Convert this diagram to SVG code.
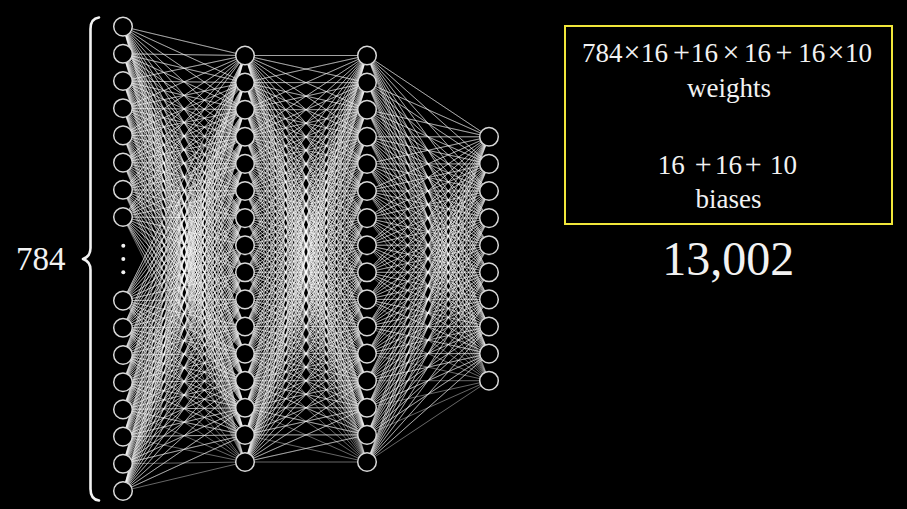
<svg xmlns="http://www.w3.org/2000/svg" width="907" height="509" viewBox="0 0 907 509">
<style>
.bg{fill:#000}
.n{fill:#000;stroke:#d8d8d8;stroke-width:1.5}
.c path{fill:none;stroke:#fff;stroke-opacity:0.4;stroke-width:1;stroke-linejoin:round}
.t{fill:#f2f2f2;font-family:"Liberation Serif","Times New Roman","DejaVu Serif",serif}
.op{font-size:30px}
</style>
<rect class="bg" x="0" y="0" width="907" height="509"/>
<g id="connectors" class="c">
<path d="M123 26.6L245 55.5 123 26.6 245 82.6 123 26.6 245 109.7 123 26.6 245 136.8 123 26.6 245 163.9 123 26.6 245 191 123 26.6 245 218.1 123 26.6 245 245.2 123 26.6 245 272.3 123 26.6 245 299.4 123 26.6 245 326.5 123 26.6 245 353.6 123 26.6 245 380.7 123 26.6 245 407.8 123 26.6 245 434.9 123 26.6 245 462"/>
<path d="M123 53.8L245 55.5 123 53.8 245 82.6 123 53.8 245 109.7 123 53.8 245 136.8 123 53.8 245 163.9 123 53.8 245 191 123 53.8 245 218.1 123 53.8 245 245.2 123 53.8 245 272.3 123 53.8 245 299.4 123 53.8 245 326.5 123 53.8 245 353.6 123 53.8 245 380.7 123 53.8 245 407.8 123 53.8 245 434.9 123 53.8 245 462"/>
<path d="M123 81L245 55.5 123 81 245 82.6 123 81 245 109.7 123 81 245 136.8 123 81 245 163.9 123 81 245 191 123 81 245 218.1 123 81 245 245.2 123 81 245 272.3 123 81 245 299.4 123 81 245 326.5 123 81 245 353.6 123 81 245 380.7 123 81 245 407.8 123 81 245 434.9 123 81 245 462"/>
<path d="M123 108.2L245 55.5 123 108.2 245 82.6 123 108.2 245 109.7 123 108.2 245 136.8 123 108.2 245 163.9 123 108.2 245 191 123 108.2 245 218.1 123 108.2 245 245.2 123 108.2 245 272.3 123 108.2 245 299.4 123 108.2 245 326.5 123 108.2 245 353.6 123 108.2 245 380.7 123 108.2 245 407.8 123 108.2 245 434.9 123 108.2 245 462"/>
<path d="M123 135.4L245 55.5 123 135.4 245 82.6 123 135.4 245 109.7 123 135.4 245 136.8 123 135.4 245 163.9 123 135.4 245 191 123 135.4 245 218.1 123 135.4 245 245.2 123 135.4 245 272.3 123 135.4 245 299.4 123 135.4 245 326.5 123 135.4 245 353.6 123 135.4 245 380.7 123 135.4 245 407.8 123 135.4 245 434.9 123 135.4 245 462"/>
<path d="M123 162.6L245 55.5 123 162.6 245 82.6 123 162.6 245 109.7 123 162.6 245 136.8 123 162.6 245 163.9 123 162.6 245 191 123 162.6 245 218.1 123 162.6 245 245.2 123 162.6 245 272.3 123 162.6 245 299.4 123 162.6 245 326.5 123 162.6 245 353.6 123 162.6 245 380.7 123 162.6 245 407.8 123 162.6 245 434.9 123 162.6 245 462"/>
<path d="M123 189.8L245 55.5 123 189.8 245 82.6 123 189.8 245 109.7 123 189.8 245 136.8 123 189.8 245 163.9 123 189.8 245 191 123 189.8 245 218.1 123 189.8 245 245.2 123 189.8 245 272.3 123 189.8 245 299.4 123 189.8 245 326.5 123 189.8 245 353.6 123 189.8 245 380.7 123 189.8 245 407.8 123 189.8 245 434.9 123 189.8 245 462"/>
<path d="M123 217L245 55.5 123 217 245 82.6 123 217 245 109.7 123 217 245 136.8 123 217 245 163.9 123 217 245 191 123 217 245 218.1 123 217 245 245.2 123 217 245 272.3 123 217 245 299.4 123 217 245 326.5 123 217 245 353.6 123 217 245 380.7 123 217 245 407.8 123 217 245 434.9 123 217 245 462"/>
<path d="M123 300.6L245 55.5 123 300.6 245 82.6 123 300.6 245 109.7 123 300.6 245 136.8 123 300.6 245 163.9 123 300.6 245 191 123 300.6 245 218.1 123 300.6 245 245.2 123 300.6 245 272.3 123 300.6 245 299.4 123 300.6 245 326.5 123 300.6 245 353.6 123 300.6 245 380.7 123 300.6 245 407.8 123 300.6 245 434.9 123 300.6 245 462"/>
<path d="M123 327.8L245 55.5 123 327.8 245 82.6 123 327.8 245 109.7 123 327.8 245 136.8 123 327.8 245 163.9 123 327.8 245 191 123 327.8 245 218.1 123 327.8 245 245.2 123 327.8 245 272.3 123 327.8 245 299.4 123 327.8 245 326.5 123 327.8 245 353.6 123 327.8 245 380.7 123 327.8 245 407.8 123 327.8 245 434.9 123 327.8 245 462"/>
<path d="M123 355L245 55.5 123 355 245 82.6 123 355 245 109.7 123 355 245 136.8 123 355 245 163.9 123 355 245 191 123 355 245 218.1 123 355 245 245.2 123 355 245 272.3 123 355 245 299.4 123 355 245 326.5 123 355 245 353.6 123 355 245 380.7 123 355 245 407.8 123 355 245 434.9 123 355 245 462"/>
<path d="M123 382.2L245 55.5 123 382.2 245 82.6 123 382.2 245 109.7 123 382.2 245 136.8 123 382.2 245 163.9 123 382.2 245 191 123 382.2 245 218.1 123 382.2 245 245.2 123 382.2 245 272.3 123 382.2 245 299.4 123 382.2 245 326.5 123 382.2 245 353.6 123 382.2 245 380.7 123 382.2 245 407.8 123 382.2 245 434.9 123 382.2 245 462"/>
<path d="M123 409.4L245 55.5 123 409.4 245 82.6 123 409.4 245 109.7 123 409.4 245 136.8 123 409.4 245 163.9 123 409.4 245 191 123 409.4 245 218.1 123 409.4 245 245.2 123 409.4 245 272.3 123 409.4 245 299.4 123 409.4 245 326.5 123 409.4 245 353.6 123 409.4 245 380.7 123 409.4 245 407.8 123 409.4 245 434.9 123 409.4 245 462"/>
<path d="M123 436.6L245 55.5 123 436.6 245 82.6 123 436.6 245 109.7 123 436.6 245 136.8 123 436.6 245 163.9 123 436.6 245 191 123 436.6 245 218.1 123 436.6 245 245.2 123 436.6 245 272.3 123 436.6 245 299.4 123 436.6 245 326.5 123 436.6 245 353.6 123 436.6 245 380.7 123 436.6 245 407.8 123 436.6 245 434.9 123 436.6 245 462"/>
<path d="M123 463.8L245 55.5 123 463.8 245 82.6 123 463.8 245 109.7 123 463.8 245 136.8 123 463.8 245 163.9 123 463.8 245 191 123 463.8 245 218.1 123 463.8 245 245.2 123 463.8 245 272.3 123 463.8 245 299.4 123 463.8 245 326.5 123 463.8 245 353.6 123 463.8 245 380.7 123 463.8 245 407.8 123 463.8 245 434.9 123 463.8 245 462"/>
<path d="M123 491L245 55.5 123 491 245 82.6 123 491 245 109.7 123 491 245 136.8 123 491 245 163.9 123 491 245 191 123 491 245 218.1 123 491 245 245.2 123 491 245 272.3 123 491 245 299.4 123 491 245 326.5 123 491 245 353.6 123 491 245 380.7 123 491 245 407.8 123 491 245 434.9 123 491 245 462"/>
<path d="M245 55.5L367 55.5 245 55.5 367 82.6 245 55.5 367 109.7 245 55.5 367 136.8 245 55.5 367 163.9 245 55.5 367 191 245 55.5 367 218.1 245 55.5 367 245.2 245 55.5 367 272.3 245 55.5 367 299.4 245 55.5 367 326.5 245 55.5 367 353.6 245 55.5 367 380.7 245 55.5 367 407.8 245 55.5 367 434.9 245 55.5 367 462"/>
<path d="M245 82.6L367 55.5 245 82.6 367 82.6 245 82.6 367 109.7 245 82.6 367 136.8 245 82.6 367 163.9 245 82.6 367 191 245 82.6 367 218.1 245 82.6 367 245.2 245 82.6 367 272.3 245 82.6 367 299.4 245 82.6 367 326.5 245 82.6 367 353.6 245 82.6 367 380.7 245 82.6 367 407.8 245 82.6 367 434.9 245 82.6 367 462"/>
<path d="M245 109.7L367 55.5 245 109.7 367 82.6 245 109.7 367 109.7 245 109.7 367 136.8 245 109.7 367 163.9 245 109.7 367 191 245 109.7 367 218.1 245 109.7 367 245.2 245 109.7 367 272.3 245 109.7 367 299.4 245 109.7 367 326.5 245 109.7 367 353.6 245 109.7 367 380.7 245 109.7 367 407.8 245 109.7 367 434.9 245 109.7 367 462"/>
<path d="M245 136.8L367 55.5 245 136.8 367 82.6 245 136.8 367 109.7 245 136.8 367 136.8 245 136.8 367 163.9 245 136.8 367 191 245 136.8 367 218.1 245 136.8 367 245.2 245 136.8 367 272.3 245 136.8 367 299.4 245 136.8 367 326.5 245 136.8 367 353.6 245 136.8 367 380.7 245 136.8 367 407.8 245 136.8 367 434.9 245 136.8 367 462"/>
<path d="M245 163.9L367 55.5 245 163.9 367 82.6 245 163.9 367 109.7 245 163.9 367 136.8 245 163.9 367 163.9 245 163.9 367 191 245 163.9 367 218.1 245 163.9 367 245.2 245 163.9 367 272.3 245 163.9 367 299.4 245 163.9 367 326.5 245 163.9 367 353.6 245 163.9 367 380.7 245 163.9 367 407.8 245 163.9 367 434.9 245 163.9 367 462"/>
<path d="M245 191L367 55.5 245 191 367 82.6 245 191 367 109.7 245 191 367 136.8 245 191 367 163.9 245 191 367 191 245 191 367 218.1 245 191 367 245.2 245 191 367 272.3 245 191 367 299.4 245 191 367 326.5 245 191 367 353.6 245 191 367 380.7 245 191 367 407.8 245 191 367 434.9 245 191 367 462"/>
<path d="M245 218.1L367 55.5 245 218.1 367 82.6 245 218.1 367 109.7 245 218.1 367 136.8 245 218.1 367 163.9 245 218.1 367 191 245 218.1 367 218.1 245 218.1 367 245.2 245 218.1 367 272.3 245 218.1 367 299.4 245 218.1 367 326.5 245 218.1 367 353.6 245 218.1 367 380.7 245 218.1 367 407.8 245 218.1 367 434.9 245 218.1 367 462"/>
<path d="M245 245.2L367 55.5 245 245.2 367 82.6 245 245.2 367 109.7 245 245.2 367 136.8 245 245.2 367 163.9 245 245.2 367 191 245 245.2 367 218.1 245 245.2 367 245.2 245 245.2 367 272.3 245 245.2 367 299.4 245 245.2 367 326.5 245 245.2 367 353.6 245 245.2 367 380.7 245 245.2 367 407.8 245 245.2 367 434.9 245 245.2 367 462"/>
<path d="M245 272.3L367 55.5 245 272.3 367 82.6 245 272.3 367 109.7 245 272.3 367 136.8 245 272.3 367 163.9 245 272.3 367 191 245 272.3 367 218.1 245 272.3 367 245.2 245 272.3 367 272.3 245 272.3 367 299.4 245 272.3 367 326.5 245 272.3 367 353.6 245 272.3 367 380.7 245 272.3 367 407.8 245 272.3 367 434.9 245 272.3 367 462"/>
<path d="M245 299.4L367 55.5 245 299.4 367 82.6 245 299.4 367 109.7 245 299.4 367 136.8 245 299.4 367 163.9 245 299.4 367 191 245 299.4 367 218.1 245 299.4 367 245.2 245 299.4 367 272.3 245 299.4 367 299.4 245 299.4 367 326.5 245 299.4 367 353.6 245 299.4 367 380.7 245 299.4 367 407.8 245 299.4 367 434.9 245 299.4 367 462"/>
<path d="M245 326.5L367 55.5 245 326.5 367 82.6 245 326.5 367 109.7 245 326.5 367 136.8 245 326.5 367 163.9 245 326.5 367 191 245 326.5 367 218.1 245 326.5 367 245.2 245 326.5 367 272.3 245 326.5 367 299.4 245 326.5 367 326.5 245 326.5 367 353.6 245 326.5 367 380.7 245 326.5 367 407.8 245 326.5 367 434.9 245 326.5 367 462"/>
<path d="M245 353.6L367 55.5 245 353.6 367 82.6 245 353.6 367 109.7 245 353.6 367 136.8 245 353.6 367 163.9 245 353.6 367 191 245 353.6 367 218.1 245 353.6 367 245.2 245 353.6 367 272.3 245 353.6 367 299.4 245 353.6 367 326.5 245 353.6 367 353.6 245 353.6 367 380.7 245 353.6 367 407.8 245 353.6 367 434.9 245 353.6 367 462"/>
<path d="M245 380.7L367 55.5 245 380.7 367 82.6 245 380.7 367 109.7 245 380.7 367 136.8 245 380.7 367 163.9 245 380.7 367 191 245 380.7 367 218.1 245 380.7 367 245.2 245 380.7 367 272.3 245 380.7 367 299.4 245 380.7 367 326.5 245 380.7 367 353.6 245 380.7 367 380.7 245 380.7 367 407.8 245 380.7 367 434.9 245 380.7 367 462"/>
<path d="M245 407.8L367 55.5 245 407.8 367 82.6 245 407.8 367 109.7 245 407.8 367 136.8 245 407.8 367 163.9 245 407.8 367 191 245 407.8 367 218.1 245 407.8 367 245.2 245 407.8 367 272.3 245 407.8 367 299.4 245 407.8 367 326.5 245 407.8 367 353.6 245 407.8 367 380.7 245 407.8 367 407.8 245 407.8 367 434.9 245 407.8 367 462"/>
<path d="M245 434.9L367 55.5 245 434.9 367 82.6 245 434.9 367 109.7 245 434.9 367 136.8 245 434.9 367 163.9 245 434.9 367 191 245 434.9 367 218.1 245 434.9 367 245.2 245 434.9 367 272.3 245 434.9 367 299.4 245 434.9 367 326.5 245 434.9 367 353.6 245 434.9 367 380.7 245 434.9 367 407.8 245 434.9 367 434.9 245 434.9 367 462"/>
<path d="M245 462L367 55.5 245 462 367 82.6 245 462 367 109.7 245 462 367 136.8 245 462 367 163.9 245 462 367 191 245 462 367 218.1 245 462 367 245.2 245 462 367 272.3 245 462 367 299.4 245 462 367 326.5 245 462 367 353.6 245 462 367 380.7 245 462 367 407.8 245 462 367 434.9 245 462 367 462"/>
<path d="M367 55.5L489 136.8 367 55.5 489 163.9 367 55.5 489 191 367 55.5 489 218.1 367 55.5 489 245.2 367 55.5 489 272.3 367 55.5 489 299.4 367 55.5 489 326.5 367 55.5 489 353.6 367 55.5 489 380.7"/>
<path d="M367 82.6L489 136.8 367 82.6 489 163.9 367 82.6 489 191 367 82.6 489 218.1 367 82.6 489 245.2 367 82.6 489 272.3 367 82.6 489 299.4 367 82.6 489 326.5 367 82.6 489 353.6 367 82.6 489 380.7"/>
<path d="M367 109.7L489 136.8 367 109.7 489 163.9 367 109.7 489 191 367 109.7 489 218.1 367 109.7 489 245.2 367 109.7 489 272.3 367 109.7 489 299.4 367 109.7 489 326.5 367 109.7 489 353.6 367 109.7 489 380.7"/>
<path d="M367 136.8L489 136.8 367 136.8 489 163.9 367 136.8 489 191 367 136.8 489 218.1 367 136.8 489 245.2 367 136.8 489 272.3 367 136.8 489 299.4 367 136.8 489 326.5 367 136.8 489 353.6 367 136.8 489 380.7"/>
<path d="M367 163.9L489 136.8 367 163.9 489 163.9 367 163.9 489 191 367 163.9 489 218.1 367 163.9 489 245.2 367 163.9 489 272.3 367 163.9 489 299.4 367 163.9 489 326.5 367 163.9 489 353.6 367 163.9 489 380.7"/>
<path d="M367 191L489 136.8 367 191 489 163.9 367 191 489 191 367 191 489 218.1 367 191 489 245.2 367 191 489 272.3 367 191 489 299.4 367 191 489 326.5 367 191 489 353.6 367 191 489 380.7"/>
<path d="M367 218.1L489 136.8 367 218.1 489 163.9 367 218.1 489 191 367 218.1 489 218.1 367 218.1 489 245.2 367 218.1 489 272.3 367 218.1 489 299.4 367 218.1 489 326.5 367 218.1 489 353.6 367 218.1 489 380.7"/>
<path d="M367 245.2L489 136.8 367 245.2 489 163.9 367 245.2 489 191 367 245.2 489 218.1 367 245.2 489 245.2 367 245.2 489 272.3 367 245.2 489 299.4 367 245.2 489 326.5 367 245.2 489 353.6 367 245.2 489 380.7"/>
<path d="M367 272.3L489 136.8 367 272.3 489 163.9 367 272.3 489 191 367 272.3 489 218.1 367 272.3 489 245.2 367 272.3 489 272.3 367 272.3 489 299.4 367 272.3 489 326.5 367 272.3 489 353.6 367 272.3 489 380.7"/>
<path d="M367 299.4L489 136.8 367 299.4 489 163.9 367 299.4 489 191 367 299.4 489 218.1 367 299.4 489 245.2 367 299.4 489 272.3 367 299.4 489 299.4 367 299.4 489 326.5 367 299.4 489 353.6 367 299.4 489 380.7"/>
<path d="M367 326.5L489 136.8 367 326.5 489 163.9 367 326.5 489 191 367 326.5 489 218.1 367 326.5 489 245.2 367 326.5 489 272.3 367 326.5 489 299.4 367 326.5 489 326.5 367 326.5 489 353.6 367 326.5 489 380.7"/>
<path d="M367 353.6L489 136.8 367 353.6 489 163.9 367 353.6 489 191 367 353.6 489 218.1 367 353.6 489 245.2 367 353.6 489 272.3 367 353.6 489 299.4 367 353.6 489 326.5 367 353.6 489 353.6 367 353.6 489 380.7"/>
<path d="M367 380.7L489 136.8 367 380.7 489 163.9 367 380.7 489 191 367 380.7 489 218.1 367 380.7 489 245.2 367 380.7 489 272.3 367 380.7 489 299.4 367 380.7 489 326.5 367 380.7 489 353.6 367 380.7 489 380.7"/>
<path d="M367 407.8L489 136.8 367 407.8 489 163.9 367 407.8 489 191 367 407.8 489 218.1 367 407.8 489 245.2 367 407.8 489 272.3 367 407.8 489 299.4 367 407.8 489 326.5 367 407.8 489 353.6 367 407.8 489 380.7"/>
<path d="M367 434.9L489 136.8 367 434.9 489 163.9 367 434.9 489 191 367 434.9 489 218.1 367 434.9 489 245.2 367 434.9 489 272.3 367 434.9 489 299.4 367 434.9 489 326.5 367 434.9 489 353.6 367 434.9 489 380.7"/>
<path d="M367 462L489 136.8 367 462 489 163.9 367 462 489 191 367 462 489 218.1 367 462 489 245.2 367 462 489 272.3 367 462 489 299.4 367 462 489 326.5 367 462 489 353.6 367 462 489 380.7"/>
</g>
<g id="input-layer">
<g id="in1"><circle class="n" cx="123" cy="26.6" r="9.3"/></g>
<g id="in2"><circle class="n" cx="123" cy="53.8" r="9.3"/></g>
<g id="in3"><circle class="n" cx="123" cy="81" r="9.3"/></g>
<g id="in4"><circle class="n" cx="123" cy="108.2" r="9.3"/></g>
<g id="in5"><circle class="n" cx="123" cy="135.4" r="9.3"/></g>
<g id="in6"><circle class="n" cx="123" cy="162.6" r="9.3"/></g>
<g id="in7"><circle class="n" cx="123" cy="189.8" r="9.3"/></g>
<g id="in8"><circle class="n" cx="123" cy="217" r="9.3"/></g>
<g id="in9"><circle class="n" cx="123" cy="300.6" r="9.3"/></g>
<g id="in10"><circle class="n" cx="123" cy="327.8" r="9.3"/></g>
<g id="in11"><circle class="n" cx="123" cy="355" r="9.3"/></g>
<g id="in12"><circle class="n" cx="123" cy="382.2" r="9.3"/></g>
<g id="in13"><circle class="n" cx="123" cy="409.4" r="9.3"/></g>
<g id="in14"><circle class="n" cx="123" cy="436.6" r="9.3"/></g>
<g id="in15"><circle class="n" cx="123" cy="463.8" r="9.3"/></g>
<g id="in16"><circle class="n" cx="123" cy="491" r="9.3"/></g>
<g id="ellipsis" fill="#f2f2f2"><circle cx="123.3" cy="245.7" r="2"/><circle cx="123.3" cy="259" r="2"/><circle cx="123.3" cy="272.3" r="2"/></g>
</g>
<g id="hidden-layer-1">
<g id="h1n1"><circle class="n" cx="245" cy="55.5" r="9.3"/></g>
<g id="h1n2"><circle class="n" cx="245" cy="82.6" r="9.3"/></g>
<g id="h1n3"><circle class="n" cx="245" cy="109.7" r="9.3"/></g>
<g id="h1n4"><circle class="n" cx="245" cy="136.8" r="9.3"/></g>
<g id="h1n5"><circle class="n" cx="245" cy="163.9" r="9.3"/></g>
<g id="h1n6"><circle class="n" cx="245" cy="191" r="9.3"/></g>
<g id="h1n7"><circle class="n" cx="245" cy="218.1" r="9.3"/></g>
<g id="h1n8"><circle class="n" cx="245" cy="245.2" r="9.3"/></g>
<g id="h1n9"><circle class="n" cx="245" cy="272.3" r="9.3"/></g>
<g id="h1n10"><circle class="n" cx="245" cy="299.4" r="9.3"/></g>
<g id="h1n11"><circle class="n" cx="245" cy="326.5" r="9.3"/></g>
<g id="h1n12"><circle class="n" cx="245" cy="353.6" r="9.3"/></g>
<g id="h1n13"><circle class="n" cx="245" cy="380.7" r="9.3"/></g>
<g id="h1n14"><circle class="n" cx="245" cy="407.8" r="9.3"/></g>
<g id="h1n15"><circle class="n" cx="245" cy="434.9" r="9.3"/></g>
<g id="h1n16"><circle class="n" cx="245" cy="462" r="9.3"/></g>
</g>
<g id="hidden-layer-2">
<g id="h2n1"><circle class="n" cx="367" cy="55.5" r="9.3"/></g>
<g id="h2n2"><circle class="n" cx="367" cy="82.6" r="9.3"/></g>
<g id="h2n3"><circle class="n" cx="367" cy="109.7" r="9.3"/></g>
<g id="h2n4"><circle class="n" cx="367" cy="136.8" r="9.3"/></g>
<g id="h2n5"><circle class="n" cx="367" cy="163.9" r="9.3"/></g>
<g id="h2n6"><circle class="n" cx="367" cy="191" r="9.3"/></g>
<g id="h2n7"><circle class="n" cx="367" cy="218.1" r="9.3"/></g>
<g id="h2n8"><circle class="n" cx="367" cy="245.2" r="9.3"/></g>
<g id="h2n9"><circle class="n" cx="367" cy="272.3" r="9.3"/></g>
<g id="h2n10"><circle class="n" cx="367" cy="299.4" r="9.3"/></g>
<g id="h2n11"><circle class="n" cx="367" cy="326.5" r="9.3"/></g>
<g id="h2n12"><circle class="n" cx="367" cy="353.6" r="9.3"/></g>
<g id="h2n13"><circle class="n" cx="367" cy="380.7" r="9.3"/></g>
<g id="h2n14"><circle class="n" cx="367" cy="407.8" r="9.3"/></g>
<g id="h2n15"><circle class="n" cx="367" cy="434.9" r="9.3"/></g>
<g id="h2n16"><circle class="n" cx="367" cy="462" r="9.3"/></g>
</g>
<g id="output-layer">
<g id="out1"><circle class="n" cx="489" cy="136.8" r="9.3"/></g>
<g id="out2"><circle class="n" cx="489" cy="163.9" r="9.3"/></g>
<g id="out3"><circle class="n" cx="489" cy="191" r="9.3"/></g>
<g id="out4"><circle class="n" cx="489" cy="218.1" r="9.3"/></g>
<g id="out5"><circle class="n" cx="489" cy="245.2" r="9.3"/></g>
<g id="out6"><circle class="n" cx="489" cy="272.3" r="9.3"/></g>
<g id="out7"><circle class="n" cx="489" cy="299.4" r="9.3"/></g>
<g id="out8"><circle class="n" cx="489" cy="326.5" r="9.3"/></g>
<g id="out9"><circle class="n" cx="489" cy="353.6" r="9.3"/></g>
<g id="out10"><circle class="n" cx="489" cy="380.7" r="9.3"/></g>
</g>
<g id="brace-label">
<path d="M99 17.5 Q90.5 18.5 90.5 29 L90.5 248 Q90.5 256.5 83 259 Q90.5 261.5 90.5 270 L90.5 489 Q90.5 499.5 99 500.5" fill="none" stroke="#f2f2f2" stroke-width="2.6" stroke-linecap="round" stroke-linejoin="round"/>
<text class="t" x="16" y="270" font-size="33">784</text>
</g>
<g id="summary-box">
<rect x="565" y="26" width="327" height="198" fill="#000" stroke="#f0e63a" stroke-width="2"/>
<text class="t" y="62" font-size="27"><tspan x="582">784</tspan><tspan class="op" x="623.5">×</tspan><tspan x="641">16</tspan><tspan class="op" x="673.1">+</tspan><tspan x="691">16</tspan><tspan class="op" x="722.5">×</tspan><tspan x="744">16</tspan><tspan class="op" x="775.5">+</tspan><tspan x="798.3">16</tspan><tspan class="op" x="827.5">×</tspan><tspan x="845">10</tspan></text>
<text class="t" x="729" y="97" font-size="27" text-anchor="middle">weights</text>
<text class="t" y="174" font-size="27"><tspan x="657.7">16</tspan><tspan class="op" x="694.8">+</tspan><tspan x="715">16</tspan><tspan class="op" x="744.8">+</tspan><tspan x="770">10</tspan></text>
<text class="t" x="728.5" y="207.5" font-size="27" text-anchor="middle">biases</text>
</g>
<g id="total">
<text class="t" x="728.3" y="275" font-size="48" text-anchor="middle">13,002</text>
</g>
</svg>
